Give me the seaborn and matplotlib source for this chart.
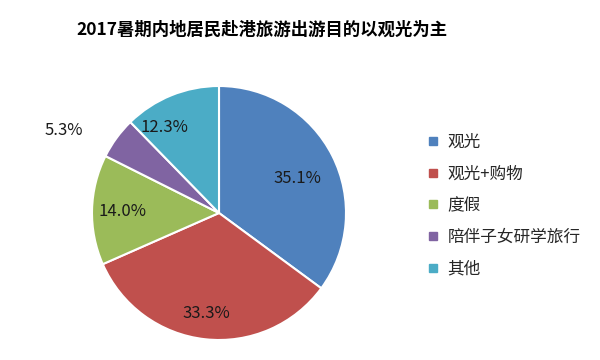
import matplotlib
matplotlib.use("Agg")
import matplotlib.pyplot as plt
import seaborn as sns
import numpy as np
from matplotlib.lines import Line2D

categories = ["观光", "观光+购物", "度假", "陪伴子女研学旅行", "其他"]
values = [35.1, 33.3, 14.0, 5.3, 12.3]
title = "2017暑期内地居民赴港旅游出游目的以观光为主"
colors = ["#4F81BD", "#C0504D", "#9BBB59", "#8064A2", "#4BACC6"]

sns.set_theme(style="white")
plt.rcParams["font.family"] = ["Noto Sans CJK SC", "DejaVu Sans"]
palette = sns.color_palette(colors)

W, H = 600, 360
fig = plt.figure(figsize=(6, 3.6), dpi=100)
fig.patch.set_facecolor("white")

cx, cy, r = 219, 360 - 213, 127
ax = fig.add_axes([(cx - r) / W, (cy - r) / H, 2 * r / W, 2 * r / H])
wedges, _ = ax.pie(values, colors=palette, startangle=90, counterclock=False,
                   radius=1.0, wedgeprops=dict(edgecolor="white", linewidth=1.5))
ax.set_xlim(-1, 1)
ax.set_ylim(-1, 1)
ax.axis("off")

# label placement (style): radial distance and angular offset per slice
dists = [0.68, 0.79, 0.76, 1.39, 0.81]
offs = [-2, -1, 0, 8, 10]
for w, v, d, o in zip(wedges, values, dists, offs):
    ang = np.deg2rad((w.theta1 + w.theta2) / 2 + o)
    ax.text(d * np.cos(ang), d * np.sin(ang) - 0.01, f"{v:.1f}%", ha="center", va="center",
            fontsize=12, color="#1a1a1a", clip_on=False)

fig.text(262 / W, 1 - 30 / H, title, ha="center", va="center", fontsize=12.5,
         fontweight="heavy", color="black")

handles = [Line2D([], [], marker="s", linestyle="none", markersize=6,
                  markerfacecolor=c, markeredgecolor=c) for c in palette]
fig.legend(handles, categories, loc="upper left",
           bbox_to_anchor=(426 / W, 1 - 134 / H), frameon=False, fontsize=12,
           handlelength=0.8, handletextpad=0.5, labelspacing=0.88,
           borderpad=0, borderaxespad=0)

fig.savefig("out.png", dpi=100, facecolor="white")
